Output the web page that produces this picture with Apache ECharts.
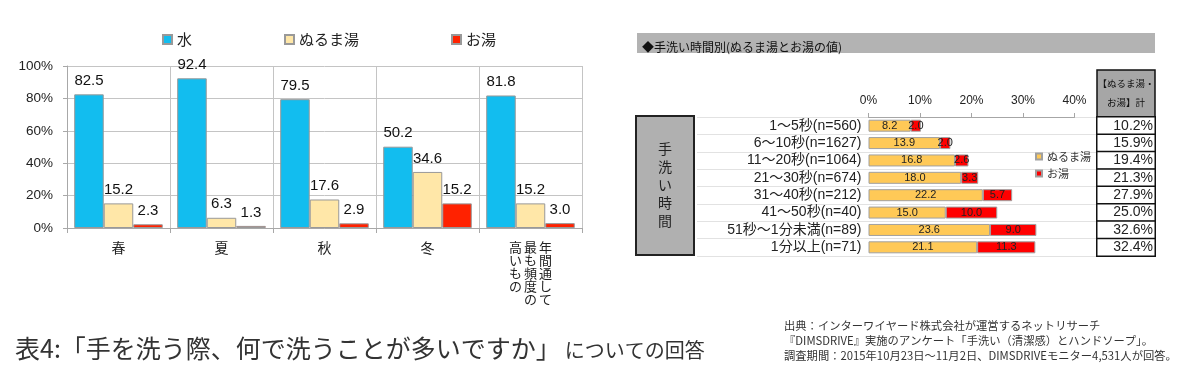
<!DOCTYPE html>
<html><head><meta charset="utf-8">
<script src="https://cdn.jsdelivr.net/npm/echarts@6/dist/echarts.min.js"></script>
<style>html,body{margin:0;padding:0;background:#fff}#c{width:1183px;height:369px}</style>
</head><body><div id="c"></div>
<script>
// ---- Left chart data ----
const seasons = ['春', '夏', '秋', '冬', '年間通して最も頻度の高いもの'];
const seasonSeriesNames = ['水', 'ぬるま湯', 'お湯'];
const water = [82.5, 92.4, 79.5, 50.2, 81.8];
const lukewarm = [15.2, 6.3, 17.6, 34.6, 15.2];
const hot = [2.3, 1.3, 2.9, 15.2, 3.0];

// ---- Right chart data ----
const durations = ['1～5秒(n=560)', '6～10秒(n=1627)', '11～20秒(n=1064)', '21～30秒(n=674)', '31～40秒(n=212)', '41～50秒(n=40)', '51秒～1分未満(n=89)', '1分以上(n=71)'];
const durSeriesNames = ['ぬるま湯', 'お湯'];
const durLukewarm = [8.2, 13.9, 16.8, 18.0, 22.2, 15.0, 23.6, 21.1];
const durHot = [2.0, 2.0, 2.6, 3.3, 5.7, 10.0, 9.0, 11.3];
const durTotal = [10.2, 15.9, 19.4, 21.3, 27.9, 25.0, 32.6, 32.4];

// ---- Texts ----
const captionMain = '表4:「手を洗う際、何で洗うことが多いですか」';
const captionSub = 'についての回答';
const rightHeader = '◆手洗い時間別(ぬるま湯とお湯の値)';
const sideLabel = '手洗い時間';
const tableHeader = ['【ぬるま湯・', 'お湯】計'];
const sourceLines = [
  '出典：インターワイヤード株式会社が運営するネットリサーチ',
  '『DIMSDRIVE』実施のアンケート「手洗い（清潔感）とハンドソープ」。',
  '調査期間：2015年10月23日～11月2日、DIMSDRIVEモニター4,531人が回答。'
];

const FONT = "'Liberation Sans', 'Noto Sans CJK JP', sans-serif";
const JFONT = "'Noto Sans CJK JP', sans-serif";
const SUFFIX = '_r';

function verticalLabel(v) {
  if (v.length <= 1) return v;
  const right = v.slice(0, 5), mid = v.slice(5, 10), left = v.slice(10);
  const rows = [];
  for (let i = 0; i < 5; i++) {
    rows.push('{c|' + (left[i] || '　') + '}{c|' + (mid[i] || '　') + '}{c|' + (right[i] || '　') + '}');
  }
  return rows.join('\n');
}

const leftColors = ['#12BDEF', '#FFE7A8', '#FF2200'];
const rightColors = ['#FFC957', '#FF0000'];
const leftData = [water, lukewarm, hot];

const chart = echarts.init(document.getElementById('c'));
chart.setOption({
  animation: false,
  textStyle: { fontFamily: FONT },
  title: [
    {
      left: 10, top: 331,
      text: '{a|' + captionMain + '}{b|' + captionSub + '}',
      textStyle: { fontWeight: 'normal', rich: {
        a: { fontSize: 25, color: '#333', fontWeight: 'normal', fontFamily: JFONT },
        b: { fontSize: 20, color: '#333', fontWeight: 'normal', fontFamily: JFONT, padding: [3, 0, 0, 4] }
      } }
    },
    {
      left: 637, top: 36, text: rightHeader,
      textStyle: { fontSize: 12, fontWeight: 'normal', color: '#111', fontFamily: JFONT }
    },
    {
      left: 779, top: 313, text: sourceLines.join('\n'),
      textStyle: { fontSize: 11.3, fontWeight: 'normal', color: '#333', fontFamily: JFONT, lineHeight: 15 }
    }
  ],
  legend: [
    {
      left: 157, top: 27, itemWidth: 9, itemHeight: 9, itemGap: 92, icon: 'rect',
      data: seasonSeriesNames,
      textStyle: { fontSize: 15, color: '#222', fontFamily: JFONT }
    },
    {
      left: 1030, top: 146, orient: 'vertical', itemWidth: 6, itemHeight: 6, itemGap: 6, icon: 'rect',
      data: durSeriesNames.map(n => n + SUFFIX),
      formatter: n => n.replace(SUFFIX, ''),
      textStyle: { fontSize: 11, color: '#333', fontFamily: JFONT }
    }
  ],
  grid: [
    { left: 67, top: 66, width: 515, height: 162 },
    { left: 868.5, top: 117, width: 206, height: 139 },
    { left: 697, top: 117, width: 400, height: 139 },
    { left: 1097, top: 117, width: 58, height: 139 }
  ],
  xAxis: [
    {
      gridIndex: 0, type: 'category', data: seasons,
      axisLine: { lineStyle: { color: '#A8A8A8' } },
      axisTick: { show: true, length: 5, lineStyle: { color: '#A8A8A8' } },
      splitLine: { show: true, interval: 0, lineStyle: { color: '#C4C4C4' } },
      axisLabel: {
        interval: 0, margin: 13, fontSize: 14, color: '#222', fontFamily: JFONT,
        formatter: verticalLabel,
        rich: { c: { width: 15, align: 'center', fontSize: 13, lineHeight: 13, color: '#222', fontFamily: JFONT } }
      }
    },
    {
      gridIndex: 1, type: 'value', min: 0, max: 40, interval: 10, position: 'top',
      axisLine: { show: true, lineStyle: { color: '#A6A6A6' } },
      axisTick: { show: true, length: 4, lineStyle: { color: '#A6A6A6' } },
      splitLine: { show: false },
      axisLabel: { formatter: '{value}%', fontSize: 12, margin: 10, color: '#222' }
    },
    { gridIndex: 2, type: 'value', show: false },
    { gridIndex: 3, type: 'category', data: ['計'], show: false }
  ],
  yAxis: [
    {
      gridIndex: 0, type: 'value', min: 0, max: 100, interval: 20,
      axisLine: { show: true, lineStyle: { color: '#A8A8A8' } },
      axisTick: { show: true, length: 4, lineStyle: { color: '#A8A8A8' } },
      splitLine: { lineStyle: { color: '#C4C4C4' } },
      axisLabel: { formatter: '{value}%', fontSize: 13.5, margin: 14, color: '#222' }
    },
    {
      gridIndex: 1, type: 'category', data: durations, inverse: true,
      axisLine: { show: false }, axisTick: { show: false },
      axisLabel: { fontSize: 14, margin: 7, color: '#222', interval: 0 }
    },
    {
      gridIndex: 2, type: 'category', data: durations, inverse: true,
      axisLine: { show: false }, axisTick: { show: false }, axisLabel: { show: false },
      splitLine: { show: true, interval: 0, lineStyle: { color: '#E2E2E2' } }
    },
    { gridIndex: 3, type: 'category', data: durations, inverse: true, show: false }
  ],
  series: [
    ...seasonSeriesNames.map((name, k) => ({
      type: 'bar', name, xAxisIndex: 0, yAxisIndex: 0, data: leftData[k],
      barGap: '0%', barCategoryGap: '14%',
      itemStyle: { color: leftColors[k], borderColor: '#999', borderWidth: 1 },
      label: { show: true, position: 'top', distance: 6, fontSize: 15, color: '#111',
        formatter: p => p.value.toFixed(1) }
    })),
    ...[durLukewarm, durHot].map((d, k) => ({
      type: 'bar', name: durSeriesNames[k] + SUFFIX, xAxisIndex: 1, yAxisIndex: 1, stack: 'dur', data: d,
      barWidth: 12,
      itemStyle: { color: rightColors[k], borderColor: '#A0A0A0', borderWidth: 1 },
      label: { show: true, position: 'inside', fontSize: 11, color: '#222',
        formatter: p => p.value.toFixed(1) }
    })),
    {
      type: 'heatmap', xAxisIndex: 3, yAxisIndex: 3,
      data: durTotal.map((v, i) => [0, i, v]),
      itemStyle: { color: '#fff', borderColor: '#111', borderWidth: 1.5 },
      label: { show: true, position: 'insideRight', distance: 3, fontSize: 14, color: '#222',
        formatter: p => p.value[2].toFixed(1) + '%' }
    }
  ],
  graphic: [
    { type: 'rect', z: -1, shape: { x: 637, y: 33, width: 518, height: 20 }, style: { fill: '#B3B3B3' } },
    { type: 'rect', shape: { x: 636, y: 116, width: 58, height: 139 }, style: { fill: '#B0B0B0', stroke: '#222', lineWidth: 2 } },
    { type: 'text', x: 665, y: 185, style: { text: sideLabel.split('').join('\n'), fill: '#222', font: '14px ' + JFONT, lineHeight: 18, align: 'center', verticalAlign: 'middle' } },
    { type: 'rect', shape: { x: 1097, y: 70, width: 58, height: 47 }, style: { fill: '#A6A6A6', stroke: '#111', lineWidth: 1.5 } },
    { type: 'text', x: 1126, y: 93, style: { text: tableHeader.join('\n'), fill: '#111', font: '9.5px ' + JFONT, lineHeight: 19, align: 'center', verticalAlign: 'middle' } }
  ]
});
</script>
</body></html>
